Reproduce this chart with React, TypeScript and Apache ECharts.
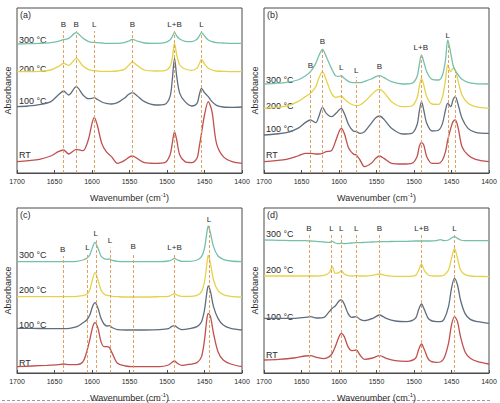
import React, { useEffect, useRef } from "react";
import * as echarts from "echarts";

// ---- Panel (a) ----
const wavenumbersA = [1700, 1685, 1670, 1655, 1645, 1638, 1631, 1621, 1612, 1605, 1600, 1597, 1593, 1587, 1581, 1574, 1566, 1557, 1551, 1546, 1540, 1530, 1515, 1503, 1496, 1493, 1490, 1487, 1483, 1476, 1467, 1460, 1457, 1454, 1450, 1445, 1440, 1434, 1425, 1413, 1400];
const rtA = [34, 37, 41, 51, 64, 69, 57, 71, 67, 99, 149, 167, 144, 89, 64, 49, 29, 37, 47, 51, 44, 31, 29, 31, 54, 89, 124, 99, 54, 34, 31, 44, 79, 119, 174, 214, 184, 89, 49, 34, 29];
const t100A = [199, 201, 205, 214, 234, 246, 234, 259, 234, 223, 224, 226, 221, 213, 209, 207, 211, 224, 236, 241, 232, 214, 204, 206, 229, 279, 344, 289, 239, 214, 201, 209, 234, 254, 241, 229, 214, 203, 198, 197, 198];
const t200A = [304, 304, 305, 309, 319, 329, 323, 344, 321, 311, 308, 307, 306, 305, 305, 305, 306, 311, 323, 333, 323, 309, 306, 307, 319, 344, 389, 354, 324, 312, 308, 314, 327, 341, 327, 314, 309, 306, 305, 304, 304];
const t300A = [387, 388, 389, 391, 395, 400, 404, 421, 404, 395, 392, 392, 391, 390, 389, 389, 389, 391, 396, 401, 396, 390, 389, 391, 399, 409, 422, 411, 402, 395, 394, 401, 411, 421, 411, 399, 394, 391, 390, 389, 389];
const bandsA = [1638, 1621, 1597, 1546, 1490, 1454];
const bandNamesA = ["B", "B", "L", "B", "L+B", "L"];
const bandTopsA = [426, 426, 426, 426, 426, 426];

// ---- Panel (b) ----
const wavenumbersB = [1700, 1685, 1670, 1655, 1645, 1638, 1631, 1627, 1622, 1617, 1610, 1604, 1600, 1597, 1593, 1587, 1581, 1577, 1572, 1566, 1557, 1551, 1546, 1540, 1530, 1515, 1503, 1496, 1493, 1490, 1487, 1483, 1476, 1467, 1462, 1458, 1455, 1451, 1448, 1445, 1441, 1436, 1428, 1418, 1400];
const rtB = [34, 37, 41, 51, 59, 59, 57, 57, 59, 64, 67, 99, 124, 134, 119, 74, 57, 54, 39, 19, 29, 44, 51, 44, 29, 27, 29, 49, 79, 91, 84, 49, 29, 29, 39, 64, 99, 134, 154, 159, 134, 79, 54, 41, 34];
const t100B = [114, 117, 121, 134, 151, 159, 151, 169, 197, 179, 169, 179, 189, 194, 179, 144, 126, 124, 119, 124, 149, 166, 171, 161, 134, 117, 119, 144, 184, 214, 189, 149, 126, 129, 149, 189, 209, 199, 219, 229, 204, 164, 134, 122, 119];
const t200B = [194, 197, 201, 214, 229, 239, 259, 284, 304, 279, 239, 227, 229, 231, 222, 211, 204, 202, 204, 214, 234, 247, 251, 242, 214, 199, 201, 224, 259, 284, 264, 229, 207, 206, 229, 279, 324, 304, 314, 309, 274, 234, 209, 199, 194];
const t300B = [267, 269, 272, 279, 291, 304, 329, 351, 371, 349, 314, 291, 290, 292, 284, 274, 271, 271, 271, 275, 282, 289, 292, 286, 274, 267, 269, 289, 324, 354, 334, 304, 281, 279, 294, 339, 399, 359, 324, 307, 294, 281, 272, 268, 267];
const bandsB = [1638, 1622, 1597, 1577, 1546, 1491, 1455, 1445];
const bandNamesB = ["B", "B", "L", "L", "B", "L+B", "L", ""];
const bandTopsB = [301, 373, 296, 288, 298, 356, 391, 309];

// ---- Panel (c) ----
const wavenumbersC = [1700, 1680, 1660, 1645, 1638, 1630, 1620, 1612, 1607, 1603, 1599, 1596, 1592, 1588, 1584, 1580, 1577, 1573, 1566, 1555, 1546, 1530, 1510, 1498, 1494, 1490, 1486, 1480, 1470, 1460, 1454, 1450, 1447, 1445, 1442, 1438, 1432, 1425, 1415, 1400];
const rtC = [19, 21, 23, 25, 27, 25, 25, 34, 64, 99, 139, 151, 134, 94, 79, 79, 77, 59, 29, 21, 19, 19, 19, 24, 31, 36, 29, 23, 26, 31, 49, 99, 159, 179, 169, 119, 64, 39, 27, 19];
const t100C = [134, 134, 133, 133, 133, 134, 139, 151, 159, 174, 201, 211, 194, 164, 147, 141, 142, 136, 130, 129, 129, 129, 130, 133, 139, 142, 136, 130, 133, 139, 154, 189, 239, 261, 244, 199, 164, 144, 134, 129];
const t200C = [229, 229, 229, 229, 229, 229, 230, 232, 236, 249, 284, 301, 279, 249, 237, 233, 232, 230, 229, 228, 228, 228, 229, 230, 234, 238, 233, 230, 230, 233, 244, 274, 324, 354, 329, 279, 247, 235, 230, 228];
const t300C = [334, 334, 334, 334, 334, 334, 335, 339, 344, 354, 379, 392, 374, 351, 343, 341, 342, 338, 335, 334, 334, 334, 334, 336, 339, 344, 339, 335, 335, 339, 349, 374, 419, 441, 419, 379, 351, 341, 336, 334];
const bandsC = [1639, 1606, 1595, 1576, 1545, 1490, 1444];
const bandNamesC = ["B", "L", "L", "L", "B", "L+B", "L"];
const bandTopsC = [351, 356, 398, 376, 358, 356, 441];

// ---- Panel (d) ----
const wavenumbersD = [1700, 1680, 1660, 1645, 1638, 1630, 1620, 1613, 1609, 1605, 1600, 1597, 1593, 1588, 1583, 1577, 1572, 1566, 1555, 1546, 1537, 1525, 1510, 1498, 1494, 1490, 1486, 1480, 1470, 1465, 1460, 1454, 1450, 1446, 1442, 1438, 1432, 1425, 1415, 1400];
const rtD = [39, 41, 45, 51, 52, 47, 43, 49, 59, 79, 109, 119, 109, 79, 67, 69, 54, 41, 45, 52, 44, 37, 35, 44, 69, 87, 69, 39, 32, 33, 44, 89, 144, 169, 154, 109, 64, 44, 34, 27];
const t100D = [164, 164, 164, 167, 169, 165, 167, 184, 194, 201, 216, 219, 207, 179, 167, 169, 161, 157, 164, 174, 164, 156, 154, 164, 189, 207, 189, 161, 154, 154, 161, 199, 254, 284, 264, 219, 179, 161, 154, 149];
const t200D = [291, 291, 291, 291, 291, 291, 293, 301, 319, 299, 301, 307, 297, 292, 291, 292, 291, 291, 293, 297, 292, 290, 290, 293, 307, 327, 307, 293, 291, 291, 293, 309, 344, 374, 344, 309, 295, 291, 290, 289];
const t300D = [399, 398, 397, 397, 396, 395, 393, 392, 395, 390, 388, 390, 388, 389, 390, 391, 391, 392, 393, 394, 394, 395, 395, 396, 396, 396, 396, 396, 397, 400, 397, 399, 405, 409, 404, 399, 397, 397, 397, 397];
const bandsD = [1640, 1610, 1597, 1577, 1546, 1490, 1446];
const bandNamesD = ["B", "L", "L", "L", "B", "L+B", "L"];
const bandTopsD = [414, 414, 414, 414, 414, 414, 414];

const seriesNames = ["RT", "100 °C", "200 °C", "300 °C"];
const panelNames = ["(a)", "(b)", "(c)", "(d)"];

const lineColors = ["#c0504d", "#5f6e7e", "#e6d24a", "#74c0ad"];
const bandColor = "#dfa266";
const textColor = "#2a2a2a";
const font = "Liberation Sans, Arial, sans-serif";

type Panel = {
  wn: number[];
  curves: number[][];
  bands: number[];
  bandNames: string[];
  bandTops: number[];
  left: number;
  top: number;
  labelYs: number[]; // RT, 100, 200, 300 label centres (px)
};

const panels: Panel[] = [
  { wn: wavenumbersA, curves: [rtA, t100A, t200A, t300A], bands: bandsA, bandNames: bandNamesA, bandTops: bandTopsA, left: 17, top: 8, labelYs: [155, 101, 69, 40] },
  { wn: wavenumbersB, curves: [rtB, t100B, t200B, t300B], bands: bandsB, bandNames: bandNamesB, bandTops: bandTopsB, left: 264, top: 8, labelYs: [155, 129, 106, 80] },
  { wn: wavenumbersC, curves: [rtC, t100C, t200C, t300C], bands: bandsC, bandNames: bandNamesC, bandTops: bandTopsC, left: 17, top: 208, labelYs: [363, 325, 290, 255] },
  { wn: wavenumbersD, curves: [rtD, t100D, t200D, t300D], bands: bandsD, bandNames: bandNamesD, bandTops: bandTopsD, left: 264, top: 208, labelYs: [355, 317, 270, 234] },
];

const PLOT_W = 225;
const PLOT_H = 165;

function buildOption() {
  const grid: any[] = [];
  const xAxis: any[] = [];
  const yAxis: any[] = [];
  const series: any[] = [];
  const graphic: any[] = [];

  panels.forEach((p, i) => {
    grid.push({
      left: p.left,
      top: p.top,
      width: PLOT_W,
      height: PLOT_H,
      show: true,
      borderColor: "#4a4a4a",
      borderWidth: 1,
      backgroundColor: "transparent",
    });
    xAxis.push({
      gridIndex: i,
      type: "value",
      min: 1400,
      max: 1700,
      interval: 50,
      inverse: true,
      name: "Wavenumber (cm{sup|-1})",
      nameLocation: "middle",
      nameGap: 19,
      nameTextStyle: {
        fontFamily: font,
        fontSize: 9,
        color: textColor,
        rich: { sup: { fontSize: 6, verticalAlign: "top", padding: [0, 0, 5, 0], fontFamily: font, color: textColor } },
      },
      axisLine: { show: true, lineStyle: { color: "#4a4a4a", width: 1 } },
      axisTick: { show: true, inside: true, length: 3, lineStyle: { color: "#4a4a4a" } },
      axisLabel: {
        fontFamily: font,
        fontSize: 7,
        color: textColor,
        margin: 5,
        formatter: (v: number) => String(v),
      },
      splitLine: { show: false },
    });
    yAxis.push({
      gridIndex: i,
      type: "value",
      min: 0,
      max: 495,
      name: "Absorbance",
      nameLocation: "middle",
      nameGap: 5,
      nameTextStyle: { fontFamily: font, fontSize: 9, color: textColor },
      axisLine: { show: false },
      axisTick: { show: false },
      axisLabel: { show: false },
      splitLine: { show: false },
    });

    p.curves.forEach((vals, k) => {
      const s: any = {
        type: "line",
        name: seriesNames[k],
        xAxisIndex: i,
        yAxisIndex: i,
        data: p.wn.map((w, j) => [w, vals[j]]),
        smooth: 0.3,
        symbol: "none",
        lineStyle: { color: lineColors[k], width: 1.3 },
        z: 3,
      };
      if (k === 0) {
        s.markLine = {
          silent: true,
          symbol: ["none", "none"],
          lineStyle: { type: [3, 2], color: bandColor, width: 1 },
          label: {
            show: true,
            position: "end",
            formatter: "{b}",
            fontFamily: font,
            fontSize: 8,
            color: textColor,
            distance: 3,
          },
          data: p.bands.map((b, j) => [
            { coord: [b, 0], name: p.bandNames[j], label: { color: textColor } },
            { coord: [b, p.bandTops[j]] },
          ]),
        };
      }
      series.push(s);
    });

    graphic.push({
      type: "text",
      left: p.left + 3,
      top: p.top + 2,
      style: { text: panelNames[i], font: `9px ${font}`, fill: textColor },
    });
    p.labelYs.forEach((y, k) => {
      graphic.push({
        type: "text",
        x: p.left + 2,
        y,
        style: {
          text: seriesNames[k],
          font: `9px ${font}`,
          fill: textColor,
          textVerticalAlign: "middle",
        },
      });
    });
  });

  // dashed separator under the lower row
  graphic.push({
    type: "line",
    shape: { x1: 2, y1: 400.5, x2: 490, y2: 400.5 },
    style: { stroke: "#9a9a9a", lineWidth: 1, lineDash: [3, 2] },
  });

  return {
    animation: false,
    backgroundColor: "#ffffff",
    grid,
    xAxis,
    yAxis,
    series,
    graphic,
  };
}

export default function App() {
  const ref = useRef<HTMLDivElement>(null);
  useEffect(() => {
    if (!ref.current) return;
    const chart = echarts.init(ref.current, undefined, { renderer: "svg" });
    chart.setOption(buildOption());
    return () => chart.dispose();
  }, []);
  return (
    <div
      ref={ref}
      style={{ position: "fixed", left: 0, top: 0, width: 500, height: 403, background: "#fff" }}
    />
  );
}
